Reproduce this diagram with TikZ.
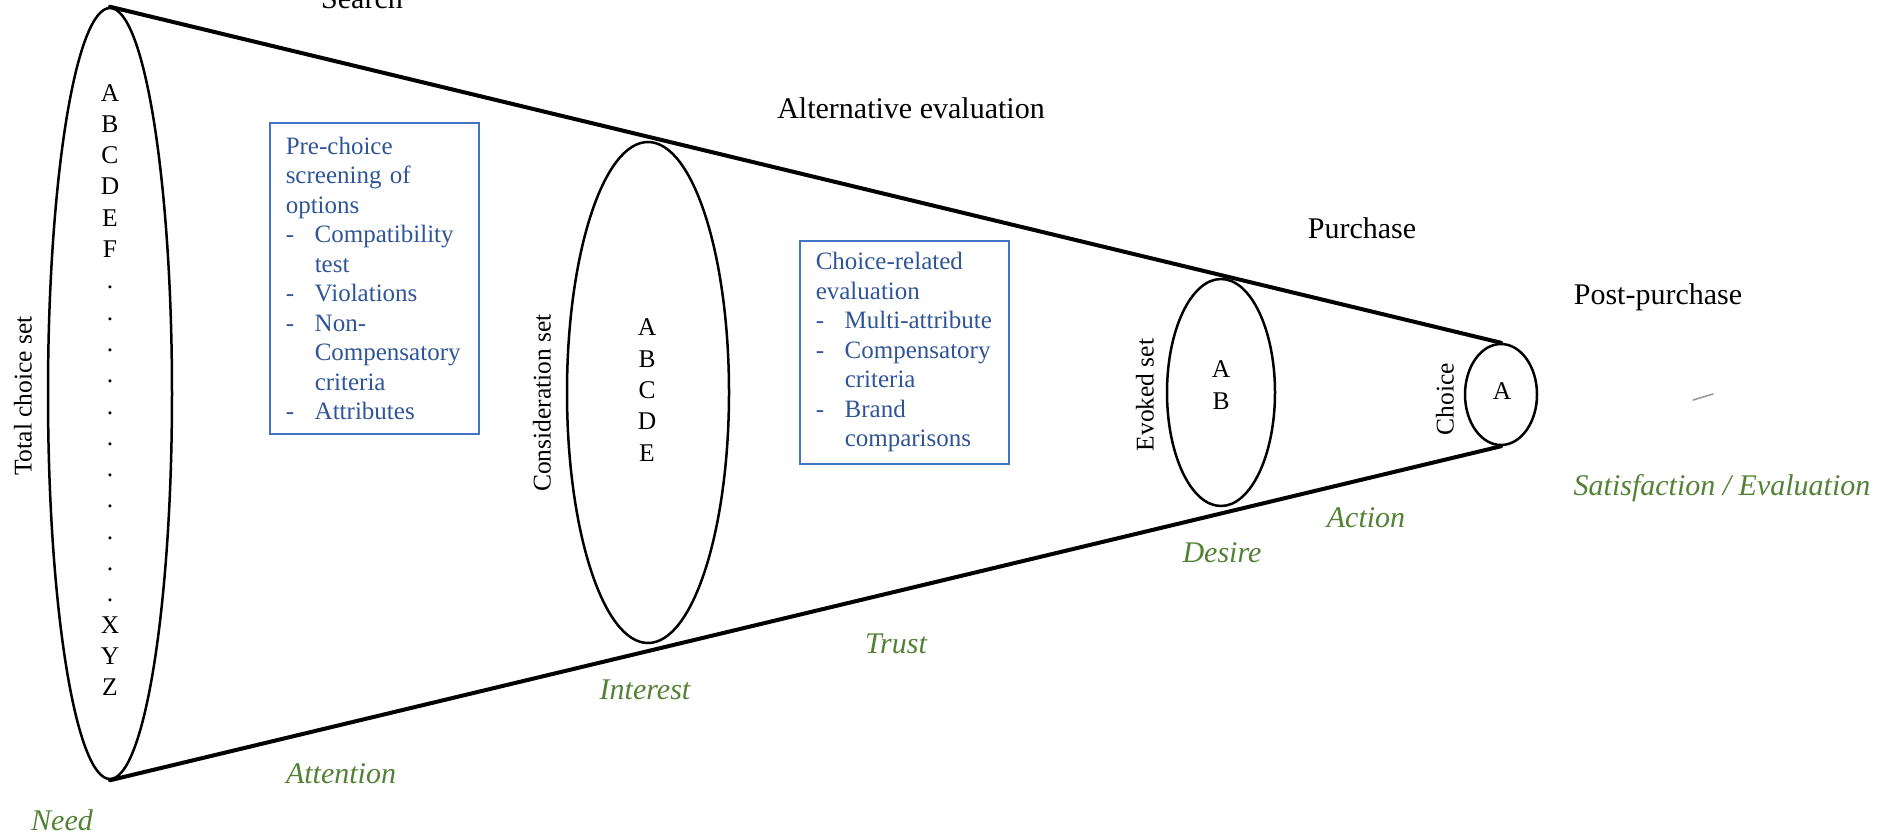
\documentclass[tikz,border=0pt]{standalone}
\usepackage{fontspec}
\setmainfont{Liberation Serif}
\usetikzlibrary{positioning,shapes.geometric}
\definecolor{inkMain}{HTML}{000000}
\definecolor{inkBox}{HTML}{2F5597}
\definecolor{lineBox}{HTML}{4472C4}
\definecolor{inkAida}{HTML}{538135}
\definecolor{inkSmear}{HTML}{9A9A9A}
\newcommand{\ringfont}{\fontsize{12.75pt}{15.65pt}\selectfont}
\newcommand{\critfont}{\fontsize{12.5pt}{14.75pt}\selectfont}
\newcommand{\stagefont}{\fontsize{15pt}{18pt}\selectfont}
\newcommand{\bitem}[1]{\makebox[14.5pt][l]{-}#1}
\newcommand{\bcont}[1]{\hspace*{14.5pt}#1}
\tikzset{
  setring/.style ={ellipse,draw=inkMain,line width=1.25pt,inner sep=0pt},
  funnel/.style  ={draw=inkMain,line width=2pt,line cap=round},
  critbox/.style ={draw=lineBox,line width=0.75pt,text=inkBox,font=\critfont,
                   align=left,text width=88.5pt,inner xsep=8pt,
                   minimum width=104.5pt,anchor=north west},
}

\begin{document}
\begin{tikzpicture}[x=0.5pt,y=-0.5pt,
          every node/.style={text=inkMain},
          members/.style={font=\ringfont,align=center,inner sep=0pt},
          setlbl/.style={font=\ringfont,rotate=90,inner sep=0pt},
          stage/.style={font=\stagefont,anchor=base,inner sep=0pt},
          aida/.style={font=\stagefont\itshape,text=inkAida,anchor=base,
                       inner sep=0pt},
        ]
        \useasboundingbox (0,0) rectangle (1879,835);
        \clip (0,0) rectangle (1879,835);
        % the four sets, narrowing to the right
        \node[setring,minimum width=62pt,minimum height=385.5pt] (tot)  at (110,393.5) {};
        \node[setring,minimum width=81pt,minimum height=250.5pt] (cons) at (648,392.5) {};
        \node[setring,minimum width=54pt,minimum height=113.5pt] (evk)  at (1221,392.5) {};
        \node[setring,minimum width=36pt,minimum height=50.5pt]  (chc)  at (1501,394.5) {};
        \draw[funnel] (tot.north) -- (chc.north);
        \draw[funnel] (tot.south) -- (chc.south);
        % members of each set
        \node[members] (totM)  at (110,390)
              {A\\B\\C\\D\\E\\F\\.\\.\\.\\.\\.\\.\\.\\.\\.\\.\\.\\X\\Y\\Z};
        \node[members] (consM) at (647,390)  {A\\B\\C\\D\\E};
        \node[members] (evkM)  at (1221,385) {A\\B};
        \node[members] (chcM)  at (1502,391) {A};
        \node[setlbl] (totT)  at (23,396)   {Total choice set};
        \node[setlbl] (consT) at (542,403)  {Consideration set};
        \node[setlbl] (evkT)  at (1145,395) {Evoked set};
        \node[setlbl] (chcT)  at (1445,399) {Choice};
        % screening boxes
        \node[critbox,minimum height=155.5pt] (pre) at (269,122)
              {Pre-choice\\screening of\\options\\
               \bitem{Compatibility}\\\bcont{test}\\
               \bitem{Violations}\\\bitem{Non-}\\
               \bcont{Compensatory}\\\bcont{criteria}\\
               \bitem{Attributes}};
        \node[critbox,minimum height=111.5pt] (cre) at (799,240)
              {Choice-related\\evaluation\\
               \bitem{Multi-attribute}\\\bitem{Compensatory}\\
               \bcont{criteria}\\\bitem{Brand}\\\bcont{comparisons}};
        % stages
        \node[stage] (srch) at (362,9)    {Search};
        \node[stage] (alt)  at (911,118)  {Alternative evaluation};
        \node[stage] (pur)  at (1362,238) {Purchase};
        \node[stage] (post) at (1658,304) {Post-purchase};
        \node[aida] (need) at (62,830)    {Need};
        \node[aida] (att)  at (341,783)   {Attention};
        \node[aida] (int)  at (645,699)   {Interest};
        \node[aida] (tru)  at (896,653)   {Trust};
        \node[aida] (des)  at (1222,562)  {Desire};
        \node[aida] (act)  at (1366,527)  {Action};
        \node[aida] (sat)  at (1722,495)  {Satisfaction / Evaluation};
        \draw[inkSmear,line width=0.8pt,line cap=round] (1693,400) -- (1713,394);
      \end{tikzpicture}
\end{document}
